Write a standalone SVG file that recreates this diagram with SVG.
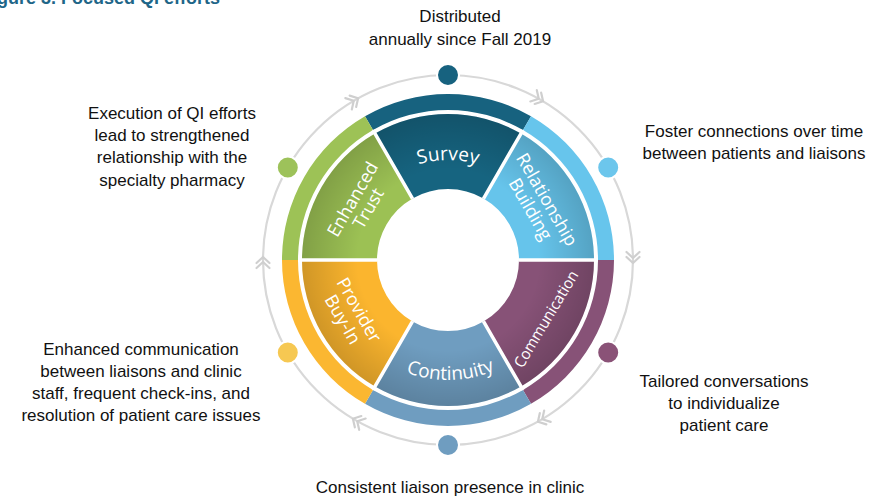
<svg xmlns="http://www.w3.org/2000/svg" width="869" height="497" viewBox="0 0 869 497">
<defs>
<style>
.note{font-family:"Liberation Sans",Arial,sans-serif;font-size:17px;fill:#111;text-anchor:middle}
.lbl{font-family:"Open Sans","Noto Sans",sans-serif;font-size:18px;fill:#fff;text-anchor:middle}
.big{font-size:19px}
.small{font-size:15.5px}
.sep{stroke:#fff;stroke-width:3.5;fill:none}
.ring{fill:none;stroke:#d8d8d8;stroke-width:2.2}
.chev{fill:none;stroke:#cfcfcf;stroke-width:2.2;stroke-linecap:round;stroke-linejoin:round}
.dot{stroke:#fff;stroke-width:2}
.shade{fill:url(#shade)}
</style>
<radialGradient id="shade" gradientUnits="userSpaceOnUse" cx="448" cy="260" r="146">
<stop offset="0.62" stop-color="#000" stop-opacity="0"/>
<stop offset="1" stop-color="#000" stop-opacity="0.17"/>
</radialGradient>
<path id="chev" d="M-8,-6.5 L-2,0 L-8,6.5 M-3,-6.5 L3,0 L-3,6.5"/>
<path id="arcTop" d="M361.4,210 A100,100 0 0 1 534.6,210"/>
<path id="arcBot" d="M344.08,320 A120,120 0 0 0 551.92,320"/>
</defs>
<rect width="869" height="497" fill="#fff"/>
<text x="-3" y="4" font-family="Liberation Sans,Arial,sans-serif" font-size="18" font-weight="bold" fill="#1f6688">gure 3. Focused QI efforts</text>

<g id="connectors">
<circle class="ring" cx="448" cy="260" r="185"/>
<use href="#chev" class="chev" transform="translate(355.5,99.8) rotate(-30)"/>
<use href="#chev" class="chev" transform="translate(540.5,99.8) rotate(30)"/>
<use href="#chev" class="chev" transform="translate(633,260) rotate(90)"/>
<use href="#chev" class="chev" transform="translate(540.5,420.2) rotate(150)"/>
<use href="#chev" class="chev" transform="translate(355.5,420.2) rotate(210)"/>
<use href="#chev" class="chev" transform="translate(263,260) rotate(270)"/>
</g>

<g id="survey">
<path d="M365,116.24 A166,166 0 0 1 531,116.24 L523,130.1 A150,150 0 0 0 373,130.1 Z" fill="#17627f"/>
<path d="M375,133.56 A146,146 0 0 1 521,133.56 L483.5,198.51 A71,71 0 0 0 412.5,198.51 Z" fill="#166480"/>
<path class="shade" d="M375,133.56 A146,146 0 0 1 521,133.56 L483.5,198.51 A71,71 0 0 0 412.5,198.51 Z"/>
<text class="lbl big"><textPath href="#arcTop" startOffset="50%">Survey</textPath></text>
</g>
<g id="relationship">
<path d="M531,116.24 A166,166 0 0 1 614,260 L598,260 A150,150 0 0 0 523,130.1 Z" fill="#67c5ec"/>
<path d="M521,133.56 A146,146 0 0 1 594,260 L519,260 A71,71 0 0 0 483.5,198.51 Z" fill="#66c4eb"/>
<path class="shade" d="M521,133.56 A146,146 0 0 1 594,260 L519,260 A71,71 0 0 0 483.5,198.51 Z"/>
<text class="lbl" transform="translate(538.75,204.25) rotate(60)"><tspan x="0" y="-3.2">Relationship</tspan><tspan x="0" y="15.8">Building</tspan></text>
</g>
<g id="communication">
<path d="M614,260 A166,166 0 0 1 531,403.76 L523,389.9 A150,150 0 0 0 598,260 Z" fill="#875277"/>
<path d="M594,260 A146,146 0 0 1 521,386.44 L483.5,321.49 A71,71 0 0 0 519,260 Z" fill="#875277"/>
<path class="shade" d="M594,260 A146,146 0 0 1 521,386.44 L483.5,321.49 A71,71 0 0 0 519,260 Z"/>
<text class="lbl small" transform="translate(546,319) rotate(-59)" x="0" y="5.5" textLength="110" lengthAdjust="spacingAndGlyphs">Communication</text>
</g>
<g id="continuity">
<path d="M531,403.76 A166,166 0 0 1 365,403.76 L373,389.9 A150,150 0 0 0 523,389.9 Z" fill="#6f9dc0"/>
<path d="M521,386.44 A146,146 0 0 1 375,386.44 L412.5,321.49 A71,71 0 0 0 483.5,321.49 Z" fill="#6f9dc0"/>
<path class="shade" d="M521,386.44 A146,146 0 0 1 375,386.44 L412.5,321.49 A71,71 0 0 0 483.5,321.49 Z"/>
<text class="lbl big"><textPath href="#arcBot" startOffset="51%">Continuity</textPath></text>
</g>
<g id="provider">
<path d="M365,403.76 A166,166 0 0 1 282,260 L298,260 A150,150 0 0 0 373,389.9 Z" fill="#fbb731"/>
<path d="M375,386.44 A146,146 0 0 1 302,260 L377,260 A71,71 0 0 0 412.5,321.49 Z" fill="#fbb52e"/>
<path class="shade" d="M375,386.44 A146,146 0 0 1 302,260 L377,260 A71,71 0 0 0 412.5,321.49 Z"/>
<text class="lbl" transform="translate(351,314.6) rotate(60)"><tspan x="0" y="-3.2">Provider</tspan><tspan x="0" y="15.8">Buy-In</tspan></text>
</g>
<g id="trust">
<path d="M282,260 A166,166 0 0 1 365,116.24 L373,130.1 A150,150 0 0 0 298,260 Z" fill="#9dc256"/>
<path d="M302,260 A146,146 0 0 1 375,133.56 L412.5,198.51 A71,71 0 0 0 377,260 Z" fill="#9cc154"/>
<path class="shade" d="M302,260 A146,146 0 0 1 375,133.56 L412.5,198.51 A71,71 0 0 0 377,260 Z"/>
<text class="lbl" transform="translate(360.4,203.75) rotate(-60)"><tspan x="0" y="-2.7">Enhanced</tspan><tspan x="0" y="15.3">Trust</tspan></text>
</g>
<g id="separators">
<path class="sep" d="M412.5,198.51 L373,130.1 M483.5,198.51 L523,130.1 M519,260 L598,260 M483.5,321.49 L523,389.9 M412.5,321.49 L373,389.9 M377,260 L298,260"/>
</g>

<g id="note-survey">
<circle class="dot" cx="448" cy="75" r="11" fill="#17627f"/>
<text class="note" x="460" y="22">Distributed</text>
<text class="note" x="460" y="45">annually since Fall 2019</text>
</g>
<g id="note-relationship">
<circle class="dot" cx="608.2" cy="167.5" r="11" fill="#6cc6ec"/>
<text class="note" x="754" y="137">Foster connections over time</text>
<text class="note" x="754" y="159">between patients and liaisons</text>
</g>
<g id="note-communication">
<circle class="dot" cx="608.2" cy="352.5" r="11" fill="#8a5277"/>
<text class="note" x="724" y="387">Tailored conversations</text>
<text class="note" x="724" y="409">to individualize</text>
<text class="note" x="724" y="431">patient care</text>
</g>
<g id="note-continuity">
<circle class="dot" cx="448" cy="445" r="11" fill="#6f9dc0"/>
<text class="note" x="450" y="493">Consistent liaison presence in clinic</text>
</g>
<g id="note-provider">
<circle class="dot" cx="287.8" cy="352.5" r="11" fill="#f6c852"/>
<text class="note" x="141" y="355">Enhanced communication</text>
<text class="note" x="141" y="377">between liaisons and clinic</text>
<text class="note" x="141" y="399">staff, frequent check-ins, and</text>
<text class="note" x="141" y="421">resolution of patient care issues</text>
</g>
<g id="note-trust">
<circle class="dot" cx="287.8" cy="167.5" r="11" fill="#9dc25a"/>
<text class="note" x="172" y="119">Execution of QI efforts</text>
<text class="note" x="172" y="141">lead to strengthened</text>
<text class="note" x="172" y="163">relationship with the</text>
<text class="note" x="172" y="186">specialty pharmacy</text>
</g>
</svg>
